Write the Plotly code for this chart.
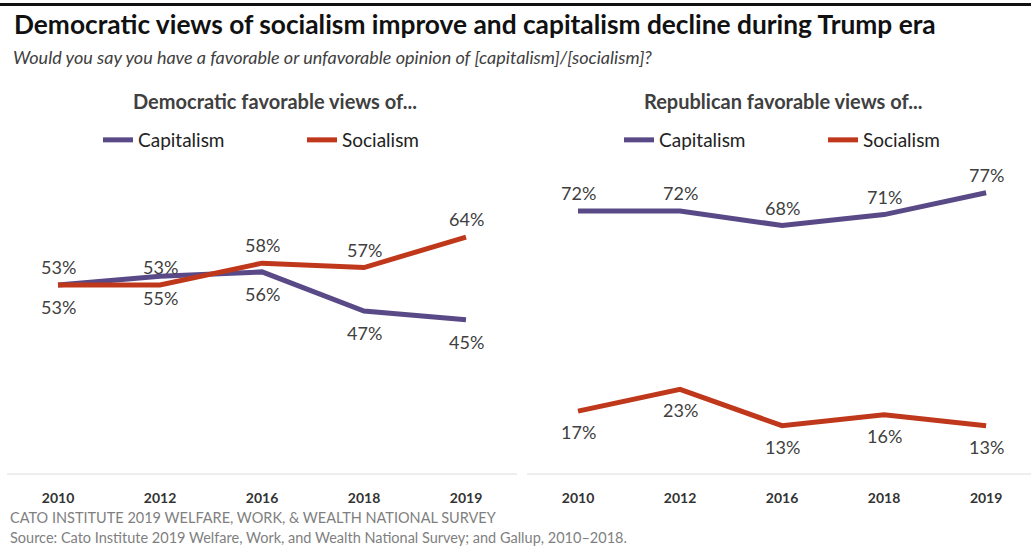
import plotly.graph_objects as go

years = ["2010", "2012", "2016", "2018", "2019"]
dem_capitalism = [53, 55, 56, 47, 45]
dem_socialism = [53, 53, 58, 57, 64]
rep_capitalism = [72, 72, 68, 71, 77]
rep_socialism = [17, 23, 13, 16, 13]

title = "Democratic views of socialism improve and capitalism decline during Trump era"
subtitle = "Would you say you have a favorable or unfavorable opinion of [capitalism]/[socialism]?"
panel_titles = ["Democratic favorable views of...", "Republican favorable views of..."]
footer1 = "CATO INSTITUTE 2019 WELFARE, WORK, & WEALTH NATIONAL SURVEY"
footer2 = "Source: Cato Institute 2019 Welfare, Work, and Wealth National Survey; and Gallup, 2010\u20132018."

PURPLE = "#594a87"
RED = "#c0381b"
FONT = "Lato"
W, H = 1031, 546

def py(p):
    return (H - p) / H

def px(p):
    return p / W

fig = go.Figure()

fig.add_trace(go.Scatter(x=years, y=dem_capitalism, mode="lines", name="Capitalism",
                         line=dict(color=PURPLE, width=5), xaxis="x", yaxis="y", legend="legend"))
fig.add_trace(go.Scatter(x=years, y=dem_socialism, mode="lines", name="Socialism",
                         line=dict(color=RED, width=5), xaxis="x", yaxis="y", legend="legend"))
fig.add_trace(go.Scatter(x=years, y=rep_capitalism, mode="lines", name="Capitalism",
                         line=dict(color=PURPLE, width=5), xaxis="x2", yaxis="y2", legend="legend2"))
fig.add_trace(go.Scatter(x=years, y=rep_socialism, mode="lines", name="Socialism",
                         line=dict(color=RED, width=5), xaxis="x2", yaxis="y2", legend="legend2"))

annotations = []
def labels(vals, xr, yr, shift):
    for i, v in enumerate(vals):
        annotations.append(dict(x=i, y=v, xref=xr, yref=yr, text=f"{v}%", showarrow=False,
                                yshift=shift, font=dict(family=FONT, size=18, color="#404040")))

labels(dem_capitalism, "x", "y", -22)
labels(dem_socialism, "x", "y", 18)
labels(rep_capitalism, "x2", "y2", 18)
labels(rep_socialism, "x2", "y2", -21)

annotations += [
    dict(text=f"<b>{title}</b>", x=px(12), y=py(24), xref="paper", yref="paper", xanchor="left",
         yanchor="middle", showarrow=False, font=dict(family=FONT, size=26.3, color="#111111")),
    dict(text=f"<i>{subtitle}</i>", x=px(11), y=py(57), xref="paper", yref="paper", xanchor="left",
         yanchor="middle", showarrow=False, font=dict(family=FONT, size=18, color="#404040")),
    dict(text=f"<b>{panel_titles[0]}</b>", x=px(275), y=py(101), xref="paper", yref="paper",
         xanchor="center", yanchor="middle", showarrow=False, font=dict(family=FONT, size=20, color="#404040")),
    dict(text=f"<b>{panel_titles[1]}</b>", x=px(783), y=py(101), xref="paper", yref="paper",
         xanchor="center", yanchor="middle", showarrow=False, font=dict(family=FONT, size=20, color="#404040")),
    dict(text=footer1, x=px(8), y=py(517), xref="paper", yref="paper", xanchor="left",
         yanchor="middle", showarrow=False, font=dict(family=FONT, size=14.5, color="#7f7f7f")),
    dict(text=footer2, x=px(8), y=py(537), xref="paper", yref="paper", xanchor="left",
         yanchor="middle", showarrow=False, font=dict(family=FONT, size=14.5, color="#7f7f7f")),
]

tickfont = dict(family=FONT, size=14, color="#333333", weight="bold")
axis_common = dict(type="category", showgrid=False, zeroline=False, showline=True,
                   linecolor="#eeeeee", linewidth=2, ticks="", ticklabelstandoff=11,
                   tickfont=tickfont, fixedrange=True)
yaxis_common = dict(showgrid=False, zeroline=False, showline=False, showticklabels=False, fixedrange=True)

ydom = [py(473), py(160)]

legend_common = dict(orientation="h", yanchor="middle", xanchor="left",
                     entrywidth=159, entrywidthmode="pixels",
                     font=dict(family=FONT, size=19, color="#222222"), bgcolor="rgba(0,0,0,0)")

fig.update_layout(
    width=W, height=H,
    margin=dict(l=0, r=0, t=0, b=0),
    paper_bgcolor="white", plot_bgcolor="white",
    font=dict(family=FONT),
    xaxis=dict(domain=[px(7), px(517)], range=[-0.5, 4.5], anchor="y", **axis_common),
    xaxis2=dict(domain=[px(527), 1], range=[-0.5, 4.44], anchor="y2", **axis_common),
    yaxis=dict(domain=ydom, range=[9.8, 81.7], anchor="x", **yaxis_common),
    yaxis2=dict(domain=ydom, range=[0, 86], anchor="x2", **yaxis_common),
    legend=dict(x=px(98), y=py(140), **legend_common),
    legend2=dict(x=px(619), y=py(140), **legend_common),
    annotations=annotations,
    shapes=[dict(type="rect", xref="paper", yref="paper", x0=0, x1=1, y0=py(6), y1=py(3),
                 layer="above", fillcolor="#111111", line=dict(width=0))],
    showlegend=True,
)

fig.write_html(
    "out.html",
    config={"displayModeBar": False},
    post_script=(
        "document.body.style.margin='0';"
        "document.body.style.padding='0';"
        "document.documentElement.style.overflow='hidden';"
        "window.scrollTo(0,0);"
    ),
)
